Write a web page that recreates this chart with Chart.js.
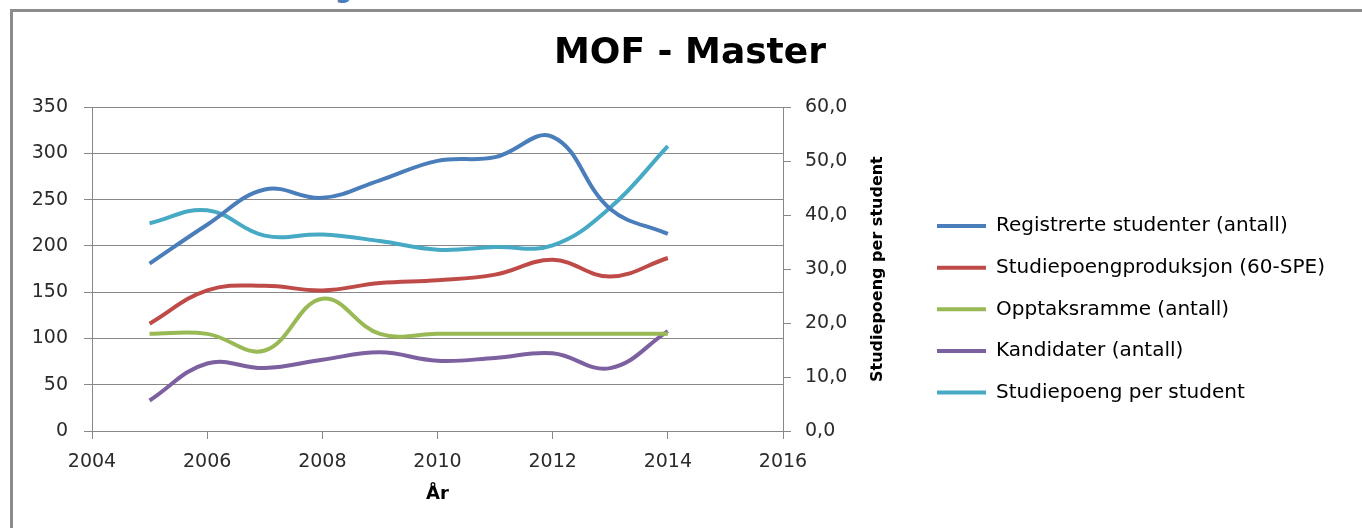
<!DOCTYPE html>
<html>
<head>
<meta charset="utf-8">
<script src="https://cdn.jsdelivr.net/npm/chart.js@4.4.0/dist/chart.umd.min.js"></script>
<style>
html,body{margin:0;padding:0;width:1362px;height:528px;overflow:hidden;background:#fff;}
#head{position:absolute;left:335px;top:-22px;font:bold 24px/24px "DejaVu Sans",sans-serif;color:#4a7ebb;}
#frame{position:absolute;left:10px;top:9px;width:1400px;height:600px;border-left:3px solid #8c8c8c;border-top:3px solid #8c8c8c;}
#wrap{position:absolute;left:0;top:0;width:1362px;height:528px;}
</style>
</head>
<body>
<div id="head">g</div>
<div id="frame"></div>
<div id="wrap"><canvas id="c" width="1362" height="528"></canvas></div>
<script>
// ---- data ----
const years = [2005, 2006, 2007, 2008, 2009, 2010, 2011, 2012, 2013, 2014];
const registrerteStudenter = [181, 223, 261, 252, 271, 292, 296, 318, 240, 213];
const studiepoengproduksjon = [116, 152, 157, 152, 160, 163, 169, 185, 167, 187];
const opptaksramme = [105, 105, 87, 143, 105, 105, 105, 105, 105, 105];
const kandidater = [33, 73, 68, 77, 85, 76, 79, 84, 68, 108];
const studiepoengPerStudent = [38.5, 40.9, 36.2, 36.4, 35.2, 33.6, 34.1, 34.4, 41.4, 52.8];

const seriesNames = ['Registrerte studenter (antall)', 'Studiepoengproduksjon (60-SPE)', 'Opptaksramme (antall)', 'Kandidater (antall)', 'Studiepoeng per student'];
const seriesColors = ['#4a7ebb', '#be4b48', '#98b954', '#7d60a0', '#46aac5'];
const leftTicks = ['0', '50', '100', '150', '200', '250', '300', '350'];

const chartTitle = 'MOF - Master';
const xTitle = 'År';
const y2Title = 'Studiepoeng per student';

// ---- style / layout ----
const FONT = '"DejaVu Sans", sans-serif';
const GRID = '#888888';
const TICKC = '#2b2b2b';
const W = 1362;
const PLOT_LEFT = 92, PLOT_RIGHT = 783, TITLE_CX = 690, LEGEND_LINE_X = 937, YLABEL_RIGHT = 68;
const LEG_PAD = 21.6, LEG_BOX = 49, LEG_FS = 20, TICK_FS = 19, TL = 8;

const mctx = document.createElement('canvas').getContext('2d');
mctx.font = LEG_FS + 'px ' + FONT;
const legendTextW = Math.max(...seriesNames.map(n => mctx.measureText(n).width));
mctx.font = TICK_FS + 'px ' + FONT;
const widestY = Math.max(...leftTicks.map(t => mctx.measureText(t).width));

const legendLeft = LEGEND_LINE_X - LEG_PAD;
const y2Width = legendLeft - PLOT_RIGHT;
const legendWidth = LEG_PAD + LEG_BOX + LEG_FS / 2 + legendTextW + 10;
const legendRight = legendLeft + legendWidth;
const padRight = W - legendRight;
const padLeft = 2 * TITLE_CX - legendRight;
const yWidth = PLOT_LEFT - padLeft;

const toPoints = arr => years.map((x, i) => ({x: x, y: arr[i]}));

const allSeries = [registrerteStudenter, studiepoengproduksjon, opptaksramme, kandidater, studiepoengPerStudent];
const datasets = allSeries.map((arr, i) => ({
  label: seriesNames[i],
  data: toPoints(arr),
  borderColor: seriesColors[i],
  backgroundColor: seriesColors[i],
  pointBorderColor: seriesColors[i],
  pointBackgroundColor: seriesColors[i],
  pointBorderWidth: 4,
  yAxisID: i === 4 ? 'y2' : 'y'
}));

const y2TitlePlugin = {
  id: 'y2TitlePlugin',
  afterDraw(chart) {
    const s = chart.scales.y2;
    const ctx = chart.ctx;
    ctx.save();
    ctx.translate(s.right - 38, (s.top + s.bottom) / 2);
    ctx.rotate(-Math.PI / 2);
    ctx.font = 'bold 16px ' + FONT;
    ctx.fillStyle = '#000';
    ctx.textAlign = 'center';
    ctx.textBaseline = 'middle';
    ctx.fillText(y2Title, 0, 0);
    ctx.restore();
  }
};

new Chart(document.getElementById('c'), {
  type: 'line',
  data: { datasets: datasets },
  plugins: [y2TitlePlugin],
  options: {
    responsive: false,
    animation: false,
    devicePixelRatio: 1,
    layout: { padding: { left: padLeft, right: padRight, top: 0, bottom: 0 } },
    elements: {
      line: { tension: 0.4, borderWidth: 4, fill: false },
      point: { radius: 0, hoverRadius: 0 }
    },
    plugins: {
      tooltip: { enabled: false },
      title: {
        display: true,
        text: chartTitle,
        color: '#000',
        font: { family: FONT, size: 36, weight: 'bold' },
        padding: { top: 32, bottom: 32 }
      },
      legend: {
        position: 'right',
        fullSize: false,
        align: 'center',
        maxWidth: 2000,
        title: { display: true, text: '', padding: { top: 68.4, bottom: 0 }, font: { size: 10 } },
        labels: {
          usePointStyle: true,
          pointStyle: 'line',
          pointStyleWidth: LEG_BOX,
          color: '#000',
          font: { family: FONT, size: LEG_FS },
          padding: LEG_PAD
        }
      }
    },
    scales: {
      x: {
        type: 'linear',
        min: 2004,
        max: 2016,
        ticks: { stepSize: 2, color: TICKC, font: { family: FONT, size: TICK_FS }, padding: 12, callback: v => String(v) },
        grid: { drawOnChartArea: false, drawTicks: true, tickLength: TL, color: GRID },
        border: { color: GRID },
        title: { display: true, text: xTitle, color: '#000', font: { family: FONT, size: 18, weight: 'bold' }, padding: { top: 0, bottom: 23 } },
        afterFit: s => { s.height = 97; }
      },
      y: {
        position: 'left',
        min: 0,
        max: 350,
        ticks: { stepSize: 50, color: TICKC, font: { family: FONT, size: TICK_FS }, mirror: true, crossAlign: 'far', padding: (YLABEL_RIGHT - PLOT_LEFT) - widestY },
        grid: { color: GRID, tickLength: TL },
        border: { color: GRID },
        afterFit: s => { s.width = yWidth; }
      },
      y2: {
        position: 'right',
        min: 0,
        max: 60,
        ticks: { stepSize: 10, color: TICKC, font: { family: FONT, size: TICK_FS }, padding: 14, callback: v => v.toFixed(1).replace('.', ',') },
        grid: { drawOnChartArea: false, tickLength: TL, color: GRID },
        border: { color: GRID },
        afterFit: s => { s.width = y2Width; }
      }
    }
  }
});
</script>
</body>
</html>
